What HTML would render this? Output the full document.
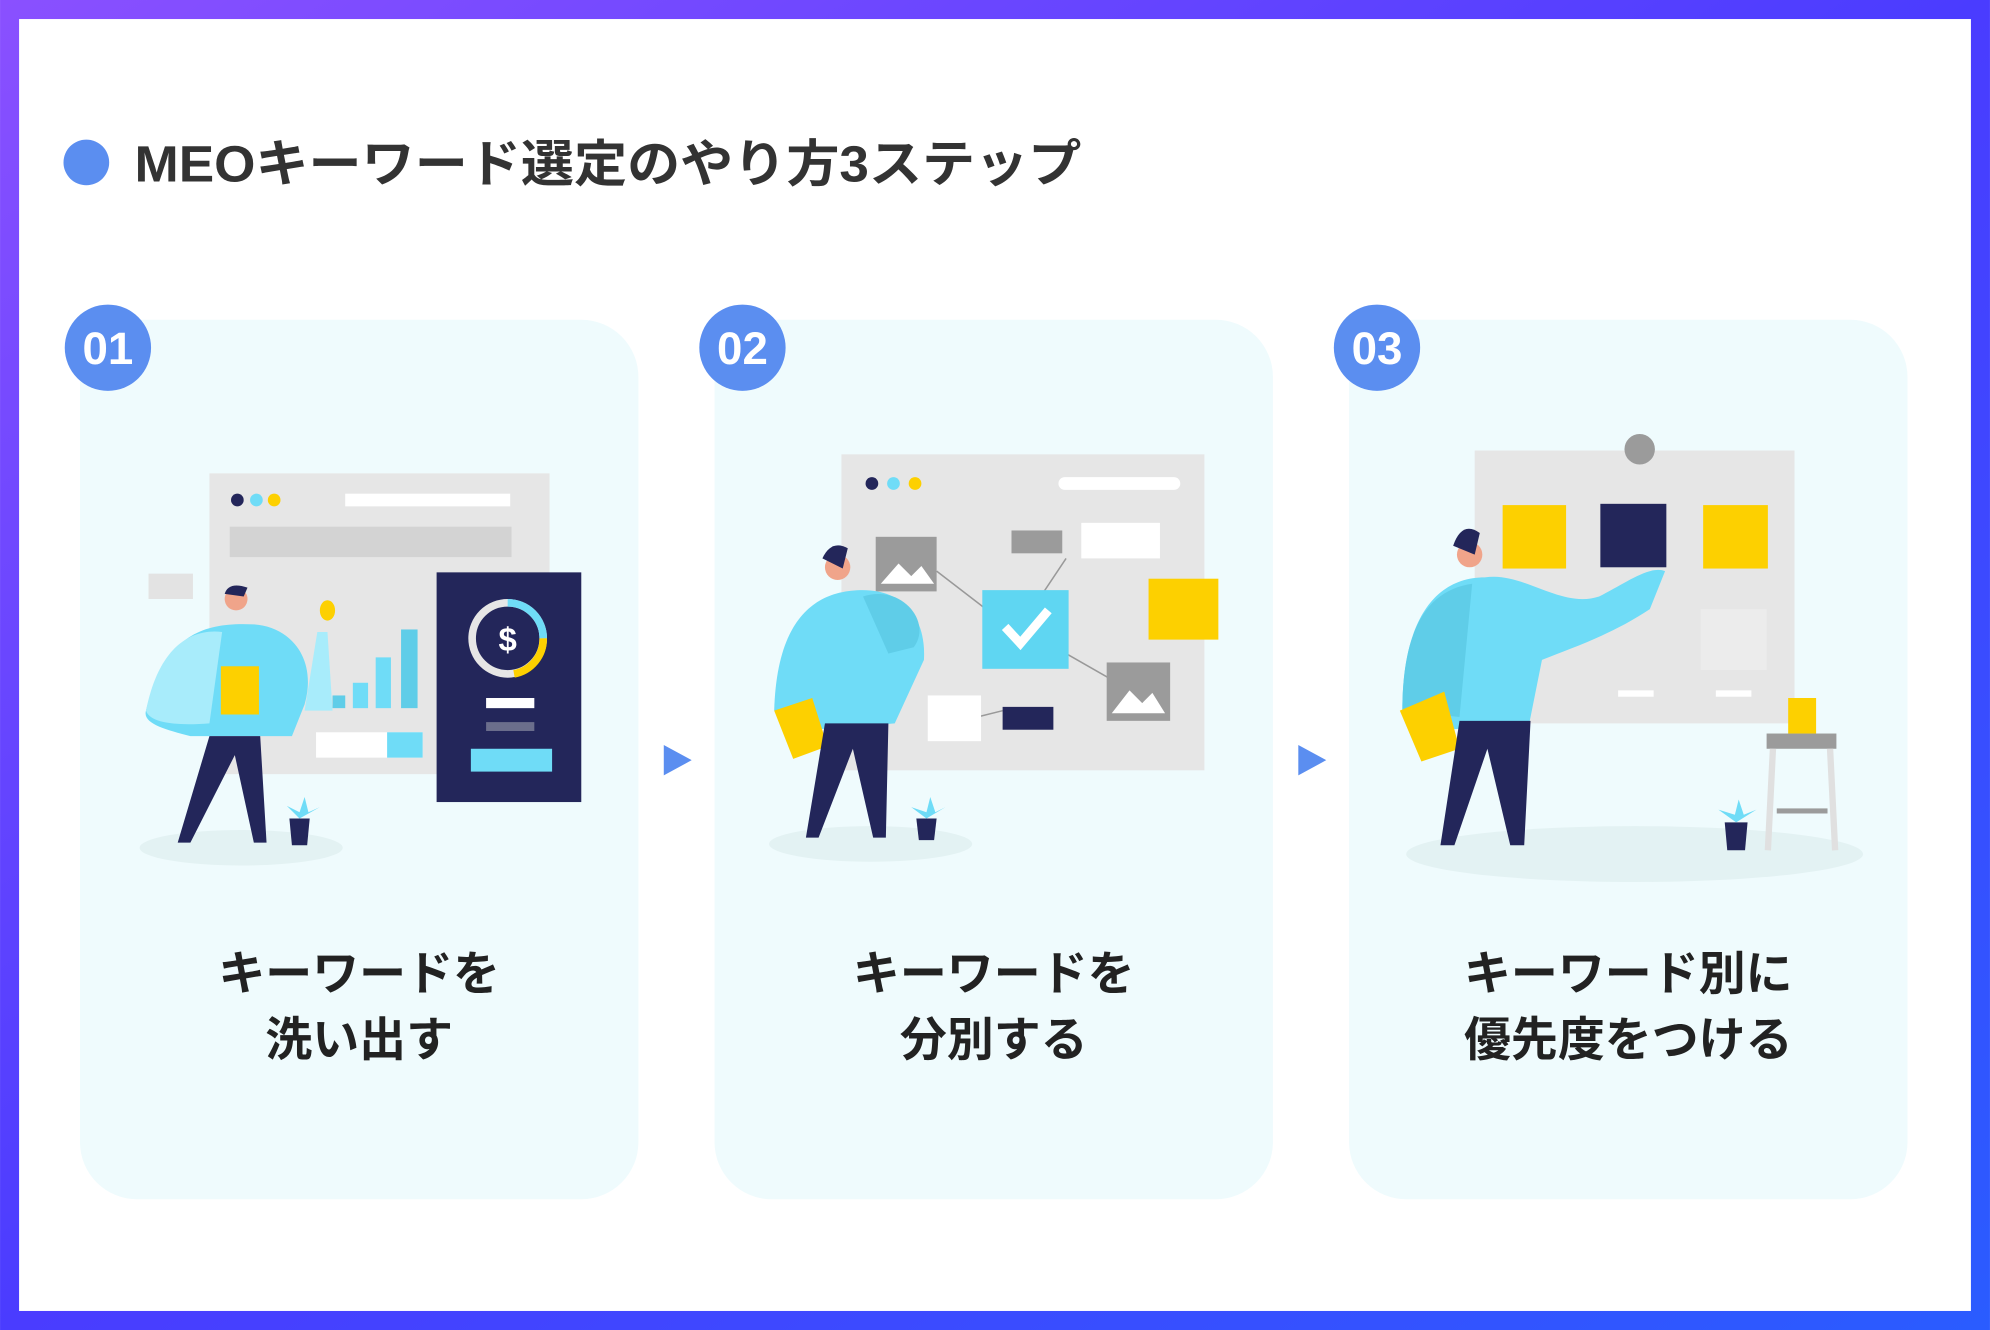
<!DOCTYPE html>
<html><head><meta charset="utf-8"><style>
html,body{margin:0;padding:0;background:#fff}
svg{display:block}
text{font-family:"Liberation Sans","Noto Sans CJK JP",sans-serif;font-weight:bold}
</style></head><body>
<svg width="1990" height="1330" viewBox="0 0 1568 1048" xmlns="http://www.w3.org/2000/svg">
<defs>
<linearGradient id="bg" x1="0" y1="0" x2="1" y2="1">
<stop offset="0" stop-color="#8a50ff"/><stop offset="0.5" stop-color="#4a3cff"/><stop offset="1" stop-color="#2a5cff"/>
</linearGradient>
</defs>
<rect x="0" y="0" width="1568" height="1048" fill="url(#bg)"/>
<rect x="15" y="15" width="1538" height="1018" fill="#fff"/>
<circle cx="68" cy="128" r="18" fill="#5b8ef0"/>
<text x="106" y="143" font-size="40" fill="#333" textLength="746" lengthAdjust="spacingAndGlyphs">MEOキーワード選定のやり方3ステップ</text>

<rect x="63" y="252" width="440" height="693" rx="45" fill="#effbfd"/>
<rect x="563" y="252" width="440" height="693" rx="45" fill="#effbfd"/>
<rect x="1063" y="252" width="440" height="693" rx="45" fill="#effbfd"/>

<circle cx="85" cy="274" r="34" fill="#5b8ef0"/>
<circle cx="585" cy="274" r="34" fill="#5b8ef0"/>
<circle cx="1085" cy="274" r="34" fill="#5b8ef0"/>
<text x="85" y="287" font-size="36" fill="#fff" text-anchor="middle">01</text>
<text x="585" y="287" font-size="36" fill="#fff" text-anchor="middle">02</text>
<text x="1085" y="287" font-size="36" fill="#fff" text-anchor="middle">03</text>

<polygon points="523,587 545,599 523,611" fill="#5b8ef0"/>
<polygon points="1023,587 1045,599 1023,611" fill="#5b8ef0"/>

<g font-size="37" fill="#222" text-anchor="middle">
<text x="283" y="780">キーワードを</text><text x="283" y="832">洗い出す</text>
<text x="783" y="780">キーワードを</text><text x="783" y="832">分別する</text>
<text x="1283" y="780">キーワード別に</text><text x="1283" y="832">優先度をつける</text>
</g>

<!-- illustration 1 -->
<ellipse cx="190" cy="668" rx="80" ry="14" fill="#e3f2f3"/>
<rect x="165" y="373" width="268" height="237" fill="#e6e6e6"/>
<circle cx="187" cy="394" r="5" fill="#23265a"/><circle cx="202" cy="394" r="5" fill="#6fdcf7"/><circle cx="216" cy="394" r="5" fill="#fdd000"/>
<rect x="272" y="389" width="130" height="10" fill="#fff"/>
<rect x="181" y="415" width="222" height="24" fill="#d3d3d3"/>
<rect x="249" y="577" width="84" height="20" fill="#fff"/><rect x="305" y="577" width="28" height="20" fill="#6fdcf7"/>
<rect x="262" y="548" width="10" height="10" fill="#5fcde8"/><rect x="278" y="538" width="12" height="20" fill="#6fdcf7"/><rect x="296" y="518" width="12" height="40" fill="#6fdcf7"/><rect x="316" y="496" width="13" height="62" fill="#5fcde8"/>
<rect x="344" y="451" width="114" height="181" fill="#23265a"/>
<circle cx="400" cy="503" r="28" fill="none" stroke="#e6e6e6" stroke-width="6"/>
<path d="M400 475 A28 28 0 0 1 428 503" fill="none" stroke="#6fdcf7" stroke-width="6"/>
<path d="M428 503 A28 28 0 0 1 405 531" fill="none" stroke="#fdd000" stroke-width="6"/>
<text x="400" y="513" font-size="26" fill="#fff" text-anchor="middle">$</text>
<rect x="383" y="550" width="38" height="8" fill="#fff"/><rect x="383" y="569" width="38" height="7" fill="#6b6e8c"/><rect x="371" y="590" width="64" height="18" fill="#6fdcf7"/>
<rect x="117" y="452" width="35" height="20" fill="#e3e3e3"/>
<path d="M250 498 L258 498 L262 560 L240 560 Z" fill="#a8ecfb"/>
<ellipse cx="258" cy="481" rx="6" ry="8" fill="#fdd000"/>
<path d="M115 560 C130 500 160 490 200 492 C230 494 250 520 240 555 L230 580 L150 580 C130 575 112 570 115 560Z" fill="#6fdcf7"/>
<path d="M115 560 C125 510 150 495 175 498 L165 570 C140 572 118 570 115 560Z" fill="#a8ecfb"/>
<rect x="174" y="525" width="30" height="38" fill="#fdd000"/>
<circle cx="186" cy="472" r="9" fill="#f0a48a"/><path d="M177 468 Q180 458 195 463 L192 470 Z" fill="#23265a"/>
<path d="M165 580 L140 664 L150 664 L185 595 L200 664 L210 664 L205 580 Z" fill="#23265a"/>
<path d="M228 645 L244 645 L242 666 L230 666Z" fill="#23265a"/><path d="M236 645 L226 635 L236 640 L240 628 L243 640 L252 636 Z" fill="#6fdcf7"/>

<!-- illustration 2 -->
<ellipse cx="686" cy="665" rx="80" ry="14" fill="#e3f2f3"/>
<rect x="663" y="358" width="286" height="249" fill="#e6e6e6"/>
<circle cx="687" cy="381" r="5" fill="#23265a"/><circle cx="704" cy="381" r="5" fill="#6fdcf7"/><circle cx="721" cy="381" r="5" fill="#fdd000"/>
<rect x="834" y="376" width="96" height="10" rx="5" fill="#fff"/>
<rect x="690" y="423" width="48" height="43" fill="#9b9b9b"/><path d="M694 460 L708 444 L718 454 L726 446 L736 460Z" fill="#fff"/>
<rect x="797" y="418" width="40" height="18" fill="#9b9b9b"/>
<rect x="852" y="412" width="62" height="28" fill="#fff"/>
<path d="M738 450 L790 490 M840 440 L820 470 M840 515 L875 535 M790 560 L770 565" stroke="#999" stroke-width="1.2"/>
<rect x="774" y="465" width="68" height="62" fill="#5fd6f2"/>
<path d="M792 494 L804 507 L826 481" stroke="#fff" stroke-width="7" fill="none"/>
<rect x="905" y="456" width="55" height="48" fill="#fdd000"/>
<rect x="872" y="522" width="50" height="46" fill="#9b9b9b"/><path d="M876 562 L890 544 L900 554 L908 546 L918 562Z" fill="#fff"/>
<rect x="731" y="548" width="42" height="36" fill="#fff"/><rect x="790" y="557" width="40" height="18" fill="#23265a"/>
<path d="M610 560 C612 490 640 465 680 465 C710 465 730 485 728 520 L705 570 L640 575Z" fill="#6fdcf7"/>
<path d="M680 470 C710 460 735 490 720 510 L700 515 Z" fill="#5fcde8"/>
<path d="M610 560 L625 598 L652 588 L640 550Z" fill="#fdd000"/>
<circle cx="660" cy="447" r="10" fill="#f0a48a"/><path d="M648 440 Q655 425 668 432 L664 448Z" fill="#23265a"/>
<path d="M650 570 L635 660 L645 660 L672 590 L688 660 L698 660 L700 570 Z" fill="#23265a"/>
<path d="M722 645 L738 645 L736 662 L724 662Z" fill="#23265a"/><path d="M730 645 L718 636 L730 640 L733 628 L737 640 L745 636Z" fill="#6fdcf7"/>

<!-- illustration 3 -->
<ellipse cx="1288" cy="673" rx="180" ry="22" fill="#e3f2f3"/>
<rect x="1162" y="355" width="252" height="215" fill="#e6e6e6"/>
<circle cx="1292" cy="354" r="12" fill="#9b9b9b"/>
<rect x="1184" y="398" width="50" height="50" fill="#fdd000"/><rect x="1261" y="397" width="52" height="50" fill="#23265a"/><rect x="1342" y="398" width="51" height="50" fill="#fdd000"/>
<rect x="1340" y="480" width="52" height="48" fill="#ececec"/>
<rect x="1352" y="544" width="28" height="5" fill="#fff"/><rect x="1275" y="544" width="28" height="5" fill="#fff"/>
<path d="M1105 560 C1105 490 1130 455 1170 455 C1200 450 1230 480 1260 470 C1280 460 1300 445 1312 450 L1300 480 C1270 500 1240 510 1215 520 L1205 570 L1140 575 Z" fill="#6fdcf7"/>
<path d="M1105 560 C1105 495 1125 465 1160 460 L1150 565 Z" fill="#5fcde8"/>
<path d="M1103 560 L1120 600 L1150 590 L1138 545Z" fill="#fdd000"/>
<circle cx="1158" cy="437" r="10" fill="#f0a48a"/><path d="M1145 430 Q1152 410 1166 420 L1162 437Z" fill="#23265a"/>
<path d="M1150 568 L1135 666 L1146 666 L1172 590 L1190 666 L1201 666 L1206 568 Z" fill="#23265a"/>
<rect x="1392" y="578" width="55" height="12" fill="#9b9b9b"/>
<path d="M1397 590 L1393 670 M1442 590 L1446 670" stroke="#e0e0e0" stroke-width="5"/><rect x="1400" y="637" width="40" height="4" fill="#9b9b9b"/>
<rect x="1409" y="550" width="22" height="28" fill="#fdd000"/>
<path d="M1359 648 L1377 648 L1375 670 L1361 670Z" fill="#23265a"/><path d="M1368 648 L1354 638 L1367 642 L1370 630 L1374 642 L1384 638Z" fill="#6fdcf7"/>
</svg>
</body></html>
